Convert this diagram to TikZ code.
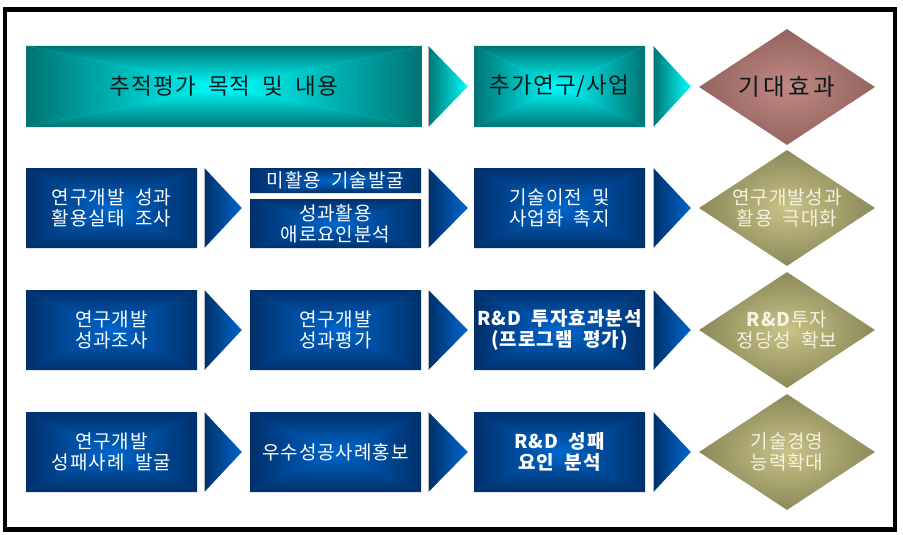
\documentclass[tikz,border=0pt]{standalone}
\usepackage{fontspec}
\setmainfont{Noto Sans CJK KR}[WordSpace=2]
\usetikzlibrary{shapes.geometric,calc}
\definecolor{tealout}{HTML}{007373}
\definecolor{tealin}{HTML}{00FFFF}
\definecolor{blueout}{HTML}{00306A}
\definecolor{bluein}{HTML}{0066CC}
\definecolor{roseout}{HTML}{93645E}
\definecolor{rosein}{HTML}{C28884}
\definecolor{oliveout}{HTML}{8C895A}
\definecolor{olivein}{HTML}{C9C387}
\definecolor{dtxt}{HTML}{F4F2E0}
\definecolor{darktxt}{HTML}{0A1A1A}
\newcommand{\chevarrow}[4]{% #1 top, #2 bottom, #3 tip, #4 colour prefix
  \shade[left color=#4out, right color=#4in] #1 -- #2 -- #3 -- cycle;
  \draw[gray!55, line width=0.7pt] #1 -- #2;}
\newcommand{\boxfont}{\fontsize{19}{21}\selectfont\addfontfeature{LetterSpace=5}}
\tikzset{
  x=1pt, y=-1pt,
  gradbox/.style 2 args={rectangle, inner sep=0pt, align=center,
    path picture={
      \fill[#2] (path picture bounding box.south west) rectangle (path picture bounding box.north east);
      \shade[top color=#1, bottom color=#2] (path picture bounding box.north west) -- (path picture bounding box.north east) -- (path picture bounding box.center) -- cycle;
      \shade[top color=#2, bottom color=#1] (path picture bounding box.south west) -- (path picture bounding box.south east) -- (path picture bounding box.center) -- cycle;
      \shade[left color=#1, right color=#2] (path picture bounding box.north west) -- (path picture bounding box.south west) -- (path picture bounding box.center) -- cycle;
      \shade[left color=#2, right color=#1] (path picture bounding box.north east) -- (path picture bounding box.south east) -- (path picture bounding box.center) -- cycle;
    }},
  tealbox/.style={gradbox={tealout}{tealin}, minimum height=81pt, font=\fontsize{22.5}{25}\selectfont\addfontfeature{LetterSpace=5}, text=darktxt},
  bluebox/.style={gradbox={blueout}{bluein}, minimum width=171pt, minimum height=80pt, font=\boxfont, text=white},
  boldbox/.style={bluebox, font=\boxfont\bfseries},
  dia/.style 2 args={diamond, aspect=1.517, minimum width=176pt, minimum height=116pt, inner sep=0pt, shade, inner color=#2, outer color=#1},
  dtext/.style={align=center, inner sep=0pt, font=\boxfont, text=dtxt},
}
\begin{document}
\begin{tikzpicture}
\useasboundingbox (0,0) rectangle (903,535);
\draw[line width=4.5pt] (5,9.5) rectangle (895,529.5);

% Row 1
\node[tealbox, minimum width=396pt] (t1) at (224,86.5) {추적평가 목적 및 내용};
\node[tealbox, minimum width=171pt] (t2) at (559.5,86.5) {추가연구/사업};
\node[dia={roseout}{rosein}] (d1) at (787,87) {};
\node[align=center, inner sep=0pt, text=darktxt, font=\fontsize{23.5}{26}\selectfont\addfontfeature{LetterSpace=14}] (d1t) at (d1.center) {기대효과};
\chevarrow{($(t1.north east)+(6,0)$)}{($(t1.south east)+(6,0)$)}{($(t1.east -| t2.west)+(-6,0)$)}{teal}
\chevarrow{($(t2.north east)+(8,0)$)}{($(t2.south east)+(8,0)$)}{($(t2.east -| d1.west)+(-8,0)$)}{teal}

% Row 2
\node[bluebox] (b21) at (111.5,208) {연구개발 성과\\활용실태 조사};
\node[bluebox, minimum height=25pt] (b22a) at (335.5,180.5) {미활용 기술발굴};
\node[bluebox, minimum height=49pt] (b22b) at (335.5,223.5) {성과활용\\애로요인분석};
\node[bluebox] (b23) at (559.5,208) {기술이전 및\\사업화 촉지};
\node[dia={oliveout}{olivein}] (d2) at (787,208) {};
\node[dtext] (d2t) at (d2.center) {연구개발성과\\활용 극대화};
\chevarrow{($(b21.north east)+(7,0)$)}{($(b21.south east)+(7,0)$)}{($(b21.east -| b22b.west)+(-8,0)$)}{blue}
\chevarrow{($(b22a.north east)+(7,0)$)}{($(b22b.south east)+(7,0)$)}{($(b21.east -| b23.west)+(-6,0)$)}{blue}
\chevarrow{($(b23.north east)+(8,0)$)}{($(b23.south east)+(8,0)$)}{($(b23.east -| d2.west)+(-8,0)$)}{blue}

% Row 3
\node[bluebox] (b31) at (111.5,330) {연구개발\\성과조사};
\node[bluebox] (b32) at (335.5,330) {연구개발\\성과평가};
\node[boldbox] (b33) at (559.5,330) {R\&D 투자효과분석\\(프로그램 평가)};
\node[dia={oliveout}{olivein}] (d3) at (787,330) {};
\node[dtext] (d3t) at (d3.center) {\textbf{R\&D}투자\\정당성 확보};
\chevarrow{($(b31.north east)+(7,0)$)}{($(b31.south east)+(7,0)$)}{($(b31.east -| b32.west)+(-8,0)$)}{blue}
\chevarrow{($(b32.north east)+(7,0)$)}{($(b32.south east)+(7,0)$)}{($(b32.east -| b33.west)+(-6,0)$)}{blue}
\chevarrow{($(b33.north east)+(8,0)$)}{($(b33.south east)+(8,0)$)}{($(b33.east -| d3.west)+(-8,0)$)}{blue}

% Row 4
\node[bluebox] (b41) at (111.5,452) {연구개발\\성패사례 발굴};
\node[bluebox] (b42) at (335.5,452) {우수성공사례홍보};
\node[boldbox] (b43) at (559.5,452) {R\&D 성패\\요인 분석};
\node[dia={oliveout}{olivein}] (d4) at (787,452) {};
\node[dtext] (d4t) at (d4.center) {기술경영\\능력확대};
\chevarrow{($(b41.north east)+(7,0)$)}{($(b41.south east)+(7,0)$)}{($(b41.east -| b42.west)+(-8,0)$)}{blue}
\chevarrow{($(b42.north east)+(7,0)$)}{($(b42.south east)+(7,0)$)}{($(b42.east -| b43.west)+(-6,0)$)}{blue}
\chevarrow{($(b43.north east)+(8,0)$)}{($(b43.south east)+(8,0)$)}{($(b43.east -| d4.west)+(-8,0)$)}{blue}
\end{tikzpicture}
\end{document}
